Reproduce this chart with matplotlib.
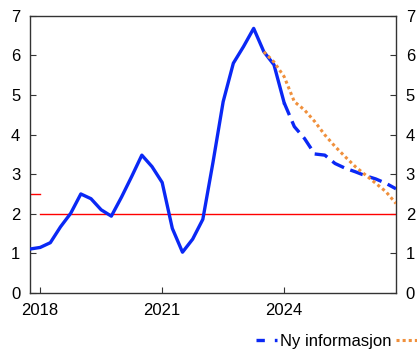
import numpy as np
import pandas as pd
import matplotlib
matplotlib.use("Agg")
import matplotlib.pyplot as plt
from matplotlib.lines import Line2D

plt.rcParams["font.family"] = ["Liberation Sans", "DejaVu Sans"]

# Historical series (quarterly, 2017Q4 - 2024Q1)
hist_quarters = pd.period_range("2017Q4", "2024Q1", freq="Q")
hist_values = [1.11, 1.15, 1.27, 1.67, 2.01, 2.50, 2.38, 2.10, 1.94, 2.42,
               2.94, 3.48, 3.19, 2.79, 1.63, 1.03, 1.36, 1.86, 3.30, 4.83,
               5.80, 6.22, 6.68, 6.09, 5.76, 4.80]

# New information (dashed), 2024Q1 - 2026Q4
new_quarters = pd.period_range("2024Q1", "2026Q4", freq="Q")
new_values = [4.80, 4.20, 3.90, 3.51, 3.48, 3.27, 3.15, 3.06, 2.96, 2.88,
              2.77, 2.63]

# Previous forecast (dotted), 2023Q3 - 2026Q4
prev_quarters = pd.period_range("2023Q3", "2026Q4", freq="Q")
prev_values = [6.09, 5.83, 5.46, 4.83, 4.62, 4.33, 3.99, 3.70, 3.44, 3.19,
               2.98, 2.77, 2.56, 2.26]

target = 2.0
old_target = 2.5
year_ticks = [2018, 2021, 2024]
legend_labels = ["Ny informasjon", "Anslag PPR 2/23"]


def to_years(quarters):
    return np.array([q.year + (q.quarter - 1) / 4 for q in quarters])


blue = "#0A28F5"
orange = "#F0903C"

fig = plt.figure(figsize=(4.17, 3.52), dpi=100)
ax = fig.add_axes([30 / 417, 1 - 293 / 352, 366 / 417, (293 - 15.7) / 352])

x_hist = to_years(hist_quarters)
x_new = to_years(new_quarters)
x_prev = to_years(prev_quarters)

ax.plot([2018, 2026.75], [target, target], color="red", linewidth=1.0)
ax.plot([2017.75, 2018], [old_target, old_target], color="red", linewidth=1.0)

ax.plot(x_hist, hist_values, color=blue, linewidth=2.4, zorder=3)
ax.plot(x_new, new_values, color=blue, linewidth=2.4,
        linestyle=(0, (4, 2)), zorder=3)
ax.plot(x_prev, prev_values, color=orange, linewidth=2.2,
        linestyle=(0, (1, 1)), zorder=4)

ax.set_xlim(2017.75, 2026.75)
ax.set_ylim(0, 7)
ax.set_xticks(year_ticks)
ax.set_xticklabels([str(y) for y in year_ticks])
ax.set_yticks(range(0, 8))

ax.tick_params(axis="both", direction="in", labelsize=12, length=4,
               color="#333333", pad=7)
ax.tick_params(axis="y", which="both", right=True, labelright=True)
for sp in ax.spines.values():
    sp.set_color("#333333")
    sp.set_linewidth(1.0)

# legend handles styled like the reference key
h_new = Line2D([], [], color=blue, linewidth=2.4, linestyle=(0, (2.5, 3)))
h_prev = Line2D([], [], color=orange, linewidth=2.2, linestyle=(0, (1, 1)))
fig.legend([h_new, h_prev], legend_labels,
           loc="lower left", bbox_to_anchor=(253 / 417, 0.0), ncol=2,
           frameon=False, fontsize=12, handlelength=1.25, handletextpad=0.15,
           columnspacing=0.3, borderpad=0.2, borderaxespad=0.0)

fig.savefig("out.png", dpi=100)
